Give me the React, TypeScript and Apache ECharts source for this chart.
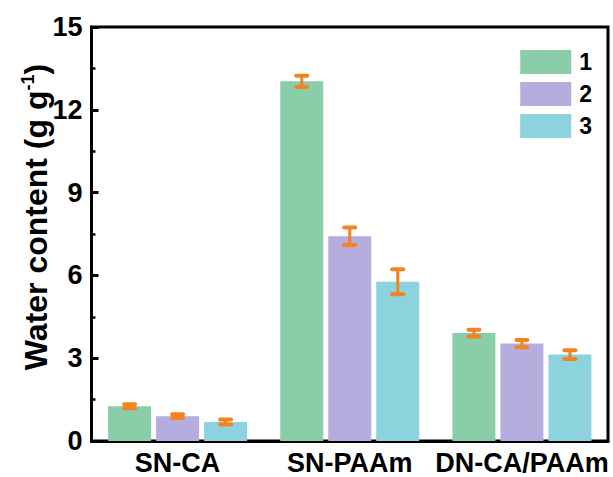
import React, { useEffect, useRef } from "react";
import * as echarts from "echarts";

const categories = ["SN-CA", "SN-PAAm", "DN-CA/PAAm"];
const seriesNames = ["1", "2", "3"];
const values1 = [1.26, 13.03, 3.91];
const values2 = [0.9, 7.42, 3.53];
const values3 = [0.69, 5.77, 3.13];
const errors1 = [0.07, 0.2, 0.12];
const errors2 = [0.07, 0.32, 0.13];
const errors3 = [0.09, 0.45, 0.16];
const yTicks = { min: 0, max: 15, interval: 3 };

const colors = ["#89CEA8", "#B4ADDE", "#8CD3DE"];
const errColor = "#F5821F";
const FONT = "'Liberation Sans', Arial, Helvetica, sans-serif";

const BAR_W = 43;
const GAP = 5;

export default function App() {
  const ref = useRef<HTMLDivElement>(null);
  useEffect(() => {
    if (!ref.current) return;
    const chart = echarts.init(ref.current, undefined, { renderer: "svg" });
    const allValues = [values1, values2, values3];
    const allErrors = [errors1, errors2, errors3];

    const barSeries = allValues.map((vals, i) => ({
      name: seriesNames[i],
      type: "bar",
      data: vals,
      barWidth: BAR_W,
      barGap: (GAP / BAR_W) * 100 + "%",
      itemStyle: { color: colors[i] },
      z: 2,
    }));

    const errSeries = allValues.map((vals, i) => ({
      type: "custom",
      name: "err" + i,
      z: 5,
      data: vals.map((v, j) => [j, v, allErrors[i][j]]),
      renderItem: (params: any, api: any) => {
        const c = api.value(0);
        const v = api.value(1);
        const e = api.value(2);
        const off = (i - 1) * (BAR_W + GAP);
        const top = api.coord([c, v + e]);
        const bot = api.coord([c, v - e]);
        const x = top[0] + off;
        const hw = 5.5;
        const st = { stroke: errColor, lineWidth: 3, lineCap: "round" };
        const capSt = { stroke: errColor, lineWidth: 4, lineCap: "round" };
        return {
          type: "group",
          children: [
            { type: "line", shape: { x1: x, y1: top[1], x2: x, y2: bot[1] }, style: st },
            { type: "line", shape: { x1: x - hw, y1: top[1], x2: x + hw, y2: top[1] }, style: capSt },
            { type: "line", shape: { x1: x - hw, y1: bot[1], x2: x + hw, y2: bot[1] }, style: capSt },
          ],
        };
      },
    }));

    chart.setOption({
      animation: false,
      backgroundColor: "#fff",
      grid: {
        left: 91.5,
        right: 5,
        top: 27,
        bottom: 33,
        show: true,
        borderColor: "#000",
        borderWidth: 3,
        backgroundColor: "transparent",
      },
      legend: {
        data: seriesNames,
        orient: "vertical",
        right: 16,
        top: 45,
        itemWidth: 51,
        itemHeight: 24,
        itemGap: 8,
        icon: "rect",
        textStyle: { fontFamily: FONT, fontWeight: "bold", fontSize: 23, color: "#000", padding: [0, 0, 0, 3] },
      },
      xAxis: {
        type: "category",
        data: categories,
        axisLine: { lineStyle: { color: "#000", width: 3 } },
        axisTick: { show: false },
        axisLabel: {
          interval: 0,
          hideOverlap: false,
          fontFamily: FONT,
          fontWeight: "bold",
          fontSize: 27,
          color: "#000",
          margin: 22,
          verticalAlign: "middle",
          lineHeight: 28,
        },
      },
      yAxis: {
        type: "value",
        min: yTicks.min,
        max: yTicks.max,
        interval: yTicks.interval,
        axisLine: { show: true, lineStyle: { color: "#000", width: 3 } },
        axisTick: { show: true, inside: true, length: 7, lineStyle: { color: "#000", width: 3 } },
        minorTick: { show: true, splitNumber: 2, length: 4, lineStyle: { color: "#000", width: 2.5 } },
        splitLine: { show: false },
        axisLabel: { fontFamily: FONT, fontWeight: "bold", fontSize: 27, color: "#000", margin: 9 },
      },
      graphic: [
        {
          type: "text",
          x: 36,
          y: 217,
          rotation: Math.PI / 2,
          style: {
            text: "{a|Water content (g g}{b|-1}{a|)}",
            align: "center",
            verticalAlign: "middle",
            fill: "#000",
            rich: {
              a: { fontFamily: FONT, fontWeight: "bold", fontSize: 32, fill: "#000", lineHeight: 35 },
              b: { fontFamily: FONT, fontWeight: "bold", fontSize: 18, fill: "#000", verticalAlign: "top", lineHeight: 35 },
            },
          },
        },
      ],
      series: [...barSeries, ...errSeries],
    });
    return () => chart.dispose();
  }, []);
  return (
    <div
      ref={ref}
      style={{ position: "fixed", left: 0, top: 0, width: 613, height: 477, overflow: "hidden" }}
    />
  );
}
